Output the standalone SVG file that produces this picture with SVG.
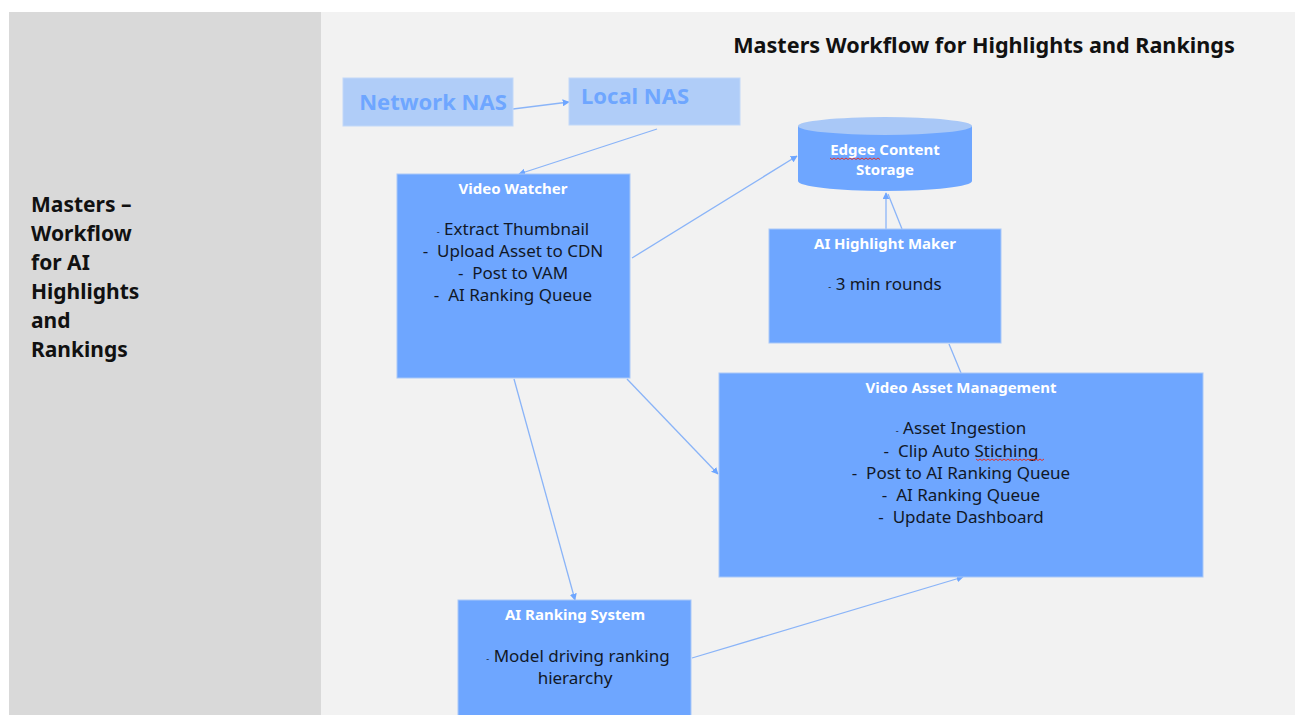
<svg xmlns="http://www.w3.org/2000/svg" width="1298" height="715" viewBox="0 0 1298 715">
<style>
.box{fill:#6ea6ff;stroke:#a9c8f7;stroke-width:1}
.nas{fill:#b0cdf8;stroke:#c2d8f8;stroke-width:1}
.t{font-family:"Noto Sans","Open Sans",sans-serif;font-weight:bold;fill:#ffffff;font-size:15px;text-anchor:middle}
.b{font-family:"Noto Sans","Open Sans",sans-serif;fill:#111827;font-size:17px;text-anchor:middle;white-space:pre}
.d{font-size:9px}
.nt{font-family:"Noto Sans","Open Sans",sans-serif;font-weight:bold;fill:#6ea6ff;font-size:22px}
.side{font-family:"Noto Sans","Open Sans",sans-serif;font-weight:bold;fill:#111111;font-size:21px}
.c{stroke:#8ab4f8;stroke-width:1.3;fill:none}
.sq{stroke:#e0322d;stroke-width:1;fill:none}
</style>
<defs>
<marker id="ah" viewBox="0 0 10 10" refX="9" refY="5" markerWidth="7" markerHeight="7" orient="auto" markerUnits="userSpaceOnUse"><path d="M0,0 L10,5 L0,10 z" fill="#6ea6ff"/></marker>
</defs>
<rect x="0" y="0" width="1298" height="715" fill="#ffffff"/>
<rect x="9" y="12" width="312" height="703" fill="#d9d9d9"/>
<rect x="321" y="12" width="974" height="703" fill="#f2f2f2"/>
<g id="side-title">
<text class="side" x="31" y="212">Masters –</text>
<text class="side" x="31" y="241">Workflow</text>
<text class="side" x="31" y="270">for AI</text>
<text class="side" x="31" y="299">Highlights</text>
<text class="side" x="31" y="328">and</text>
<text class="side" x="31" y="357">Rankings</text>
</g>
<g id="main-title"><text x="984" y="53" text-anchor="middle" style="font-family:'Noto Sans','Open Sans',sans-serif;font-weight:bold;font-size:21.6px;fill:#111111">Masters Workflow for Highlights and Rankings</text></g>
<g id="connectors">
<line class="c" x1="513" y1="109" x2="569" y2="102" marker-end="url(#ah)"/>
<line class="c" x1="657" y1="129" x2="519" y2="174" marker-end="url(#ah)"/>
<line class="c" x1="632" y1="258" x2="797" y2="156" marker-end="url(#ah)"/>
<line class="c" x1="627" y1="379" x2="718" y2="474" marker-end="url(#ah)"/>
<line class="c" x1="514" y1="379" x2="575" y2="600" marker-end="url(#ah)"/>
<line class="c" x1="692" y1="658" x2="963" y2="577" marker-end="url(#ah)"/>
<line class="c" x1="886" y1="229" x2="886" y2="193" marker-end="url(#ah)"/>
<line class="c" x1="902" y1="229" x2="888" y2="194"/>
<line class="c" x1="949" y1="344" x2="961" y2="373"/>
</g>
<g id="network-nas">
<rect class="nas" x="343" y="78" width="170" height="48"/>
<text class="nt" x="433" y="110" text-anchor="middle">Network NAS</text>
</g>
<g id="local-nas">
<rect class="nas" x="569" y="78" width="171" height="47"/>
<text class="nt" x="581" y="104">Local NAS</text>
</g>
<g id="video-watcher">
<rect class="box" x="397" y="174" width="233" height="204"/>
<text class="t" x="513" y="194">Video Watcher</text>
<text class="b" x="513" y="235"><tspan class="d">-</tspan> Extract Thumbnail</text>
<text class="b" x="513" y="257">-  Upload Asset to CDN</text>
<text class="b" x="513" y="279">-  Post to VAM</text>
<text class="b" x="513" y="301">-  AI Ranking Queue</text>
</g>
<g id="edgee-storage">
<path d="M798,126 L798,181 A87,10 0 0 0 972,181 L972,126" fill="#6ea6ff"/>
<ellipse cx="885" cy="126" rx="87" ry="9" fill="#a9c8f7"/>
<text class="t" x="885" y="155">Edgee Content</text>
<text class="t" x="885" y="175">Storage</text>
<path class="sq" d="M830,158 l2,1.5 l2,-1.5 l2,1.5 l2,-1.5 l2,1.5 l2,-1.5 l2,1.5 l2,-1.5 l2,1.5 l2,-1.5 l2,1.5 l2,-1.5 l2,1.5 l2,-1.5 l2,1.5 l2,-1.5 l2,1.5 l2,-1.5 l2,1.5 l2,-1.5 l2,1.5 l2,-1.5 l2,1.5 l2,-1.5 l2,1.5"/>
</g>
<g id="ai-highlight-maker">
<rect class="box" x="769" y="229" width="232" height="114"/>
<text class="t" x="885" y="249">AI Highlight Maker</text>
<text class="b" x="885" y="290"><tspan class="d">-</tspan> 3 min rounds</text>
</g>
<g id="video-asset-management">
<rect class="box" x="719" y="373" width="484" height="204"/>
<text class="t" x="961" y="393">Video Asset Management</text>
<text class="b" x="961" y="434"><tspan class="d">-</tspan> Asset Ingestion</text>
<text class="b" x="961" y="457">-  Clip Auto Stiching</text>
<path class="sq" d="M976,459 l2,1.5 l2,-1.5 l2,1.5 l2,-1.5 l2,1.5 l2,-1.5 l2,1.5 l2,-1.5 l2,1.5 l2,-1.5 l2,1.5 l2,-1.5 l2,1.5 l2,-1.5 l2,1.5 l2,-1.5 l2,1.5 l2,-1.5 l2,1.5 l2,-1.5 l2,1.5 l2,-1.5 l2,1.5 l2,-1.5 l2,1.5 l2,-1.5 l2,1.5 l2,-1.5 l2,1.5 l2,-1.5 l2,1.5 l2,-1.5 l2,1.5 l2,-1.5"/>
<text class="b" x="961" y="479">-  Post to AI Ranking Queue</text>
<text class="b" x="961" y="501">-  AI Ranking Queue</text>
<text class="b" x="961" y="523">-  Update Dashboard</text>
</g>
<g id="ai-ranking-system">
<rect class="box" x="458" y="600" width="233" height="120"/>
<text class="t" x="575" y="620">AI Ranking System</text>
<text class="b" x="578" y="662"><tspan class="d">-</tspan> Model driving ranking</text>
<text class="b" x="575" y="684">hierarchy</text>
</g>
</svg>
